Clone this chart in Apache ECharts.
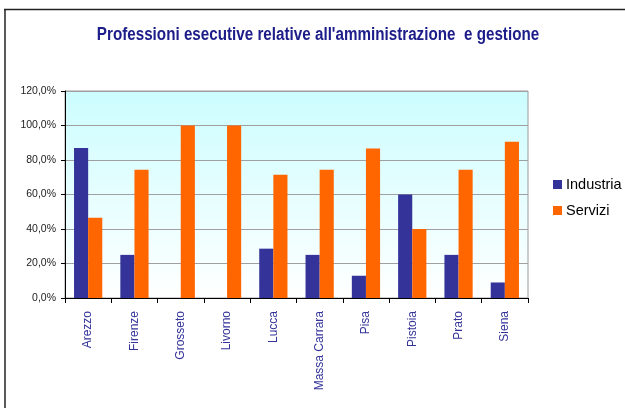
<!DOCTYPE html>
<html>
<head>
<meta charset="utf-8">
<script src="https://cdn.jsdelivr.net/npm/echarts@6/dist/echarts.min.js"></script>
<style>
  html, body { margin: 0; padding: 0; background: #ffffff; }
  #chart { width: 625px; height: 408px; }
</style>
</head>
<body>
<div id="chart"></div>
<script>
// Province names along the category axis
const province = ['Arezzo', 'Firenze', 'Grosseto', 'Livorno', 'Lucca', 'Massa Carrara', 'Pisa', 'Pistoia', 'Prato', 'Siena'];
// Share of each sector (percent)
const industria = [87.0, 25.0, 0, 0, 28.6, 25.0, 12.9, 60.0, 25.0, 9.0];
const servizi = [46.5, 74.4, 100.0, 100.0, 71.5, 74.4, 86.6, 40.0, 74.4, 90.6];
// Value axis ticks
const yTicks = [0, 20, 40, 60, 80, 100, 120];
const titleText = "Professioni esecutive relative all'amministrazione  e gestione";

const sans = '"Liberation Sans", Arial, sans-serif';

const chart = echarts.init(document.getElementById('chart'));
chart.setOption({
  animation: false,
  backgroundColor: '#ffffff',
  legend: {
    orient: 'vertical',
    left: 548,
    top: 172,
    itemWidth: 9,
    itemHeight: 9,
    itemGap: 11,
    icon: 'rect',
    textStyle: { fontFamily: sans, fontSize: 14.5, color: '#000000', padding: [0, 0, 0, -1] },
    data: ['Industria', 'Servizi']
  },
  grid: {
    left: 65, right: 97, top: 91, bottom: 110,
    show: true,
    borderColor: '#9a9a9a',
    borderWidth: 1,
    backgroundColor: new echarts.graphic.LinearGradient(0, 0, 0, 1, [
      { offset: 0, color: '#ccfdff' },
      { offset: 1, color: '#ffffff' }
    ])
  },
  xAxis: {
    type: 'category',
    data: province,
    axisLine: { lineStyle: { color: '#000000', width: 1 } },
    axisTick: { show: true, length: 5, lineStyle: { color: '#000000' } },
    axisLabel: {
      rotate: 90,
      margin: 13,
      interval: 0,
      fontFamily: sans,
      fontSize: 12,
      color: '#333399'
    }
  },
  yAxis: {
    type: 'value',
    min: 0,
    max: 120,
    interval: 20,
    axisLine: { show: true, lineStyle: { color: '#000000', width: 1 } },
    axisTick: { show: true, length: 4, lineStyle: { color: '#000000' } },
    splitLine: { show: true, lineStyle: { color: '#a0a0a0', width: 1 } },
    axisLabel: {
      margin: 9,
      fontFamily: sans,
      fontSize: 10.5,
      color: '#222222',
      formatter: v => yTicks.includes(v) ? v.toFixed(1).replace('.', ',') + '%' : ''
    }
  },
  series: [
    {
      name: 'Industria',
      type: 'bar',
      data: industria,
      barGap: '0%',
      barCategoryGap: '39%',
      itemStyle: { color: '#343399' }
    },
    {
      name: 'Servizi',
      type: 'bar',
      data: servizi,
      itemStyle: { color: '#ff6600' }
    }
  ],
  graphic: [
    // condensed bold heading
    {
      type: 'text',
      x: 318, y: 35,
      scaleX: 0.845,
      silent: true,
      style: {
        text: titleText,
        align: 'center',
        verticalAlign: 'middle',
        fontFamily: sans,
        fontSize: 18,
        fontWeight: 'bold',
        fill: '#1c1c8a'
      }
    },
    // outer frame along the top and left edges
    { type: 'line', shape: { x1: 4, y1: 9.5, x2: 625, y2: 9.5 }, style: { stroke: '#222222', lineWidth: 1.5 }, silent: true },
    { type: 'line', shape: { x1: 5, y1: 9, x2: 5, y2: 408 }, style: { stroke: '#222222', lineWidth: 1.5 }, silent: true }
  ]
});
</script>
</body>
</html>
